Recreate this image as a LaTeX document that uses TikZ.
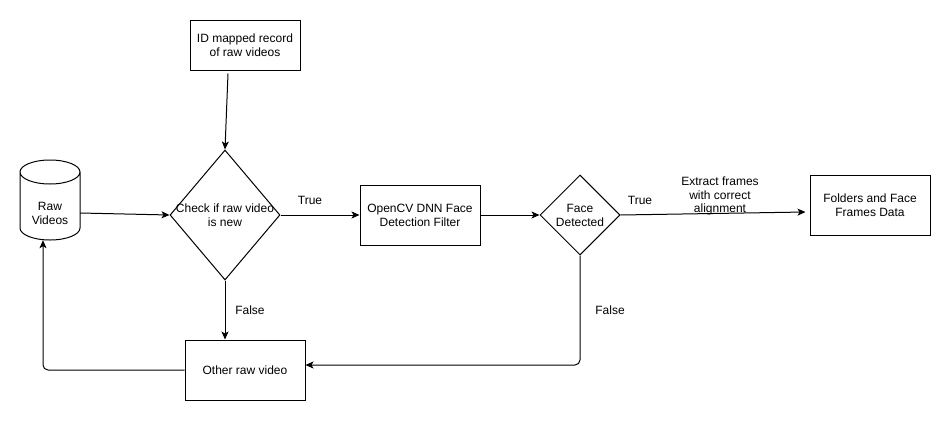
\documentclass[tikz,border=0pt]{standalone}
\usepackage{fontspec}
\setmainfont{Liberation Sans}
\usetikzlibrary{arrows.meta,shapes.geometric,calc}
\begin{document}
\begin{tikzpicture}[x=1pt,y=1pt,
  every node/.style={font=\fontsize{12pt}{14pt}\selectfont, text=black},
  box/.style={draw, line width=1pt, rectangle, inner sep=0pt, align=center},
  dia/.style={draw, line width=1pt, diamond, inner sep=0pt},
  txt/.style={align=center, inner sep=0pt},
  lbl/.style={align=center, inner sep=0pt},
  conn/.style={line width=1pt, -{Stealth[length=8pt,width=7pt,inset=2pt]}},
]
\useasboundingbox (0,0) rectangle (951,-421);
% cylinder
\node[inner sep=0pt, minimum width=60pt, minimum height=80pt] (raw) at (50,-200) {};
\draw[line width=1pt] (20,-172) -- (20,-228) arc[start angle=180,end angle=360,x radius=30,y radius=12]
  -- (80,-172) arc[start angle=0,end angle=180,x radius=30,y radius=12]
  arc[start angle=180,end angle=360,x radius=30,y radius=12];
\node[txt] (rawtxt) at (50,-213) {Raw\\Videos};
% boxes
\node[box, minimum width=110pt, minimum height=50pt] (id) at (245,-45) {ID mapped record\\of raw videos};
\node[dia, minimum width=110pt, minimum height=130pt] (check) at (225,-215) {};
\node[txt] (checktxt) at (225,-215) {Check if raw video\\is new};
\node[box, minimum width=120pt, minimum height=60pt] (cv) at (420,-215) {OpenCV DNN Face\\Detection Filter};
\node[dia, minimum width=80pt, minimum height=80pt] (face) at (580,-215) {};
\node[txt] (facetxt) at (580,-215) {Face\\Detected};
\node[box, minimum width=120pt, minimum height=60pt] (fold) at (870,-205) {Folders and Face\\Frames Data};
\node[box, minimum width=120pt, minimum height=60pt] (other) at (245,-370) {Other raw video};
% labels
\node[lbl] (t1) at (310,-200) {True};
\node[lbl] (t2) at (640,-200) {True};
\node[lbl] (f1) at (250,-310) {False};
\node[lbl] (f2) at (610,-310) {False};
\node[lbl, font=\fontsize{12pt}{13.5pt}\selectfont] (ext) at (720,-196) {Extract frames\\with correct\\alignment};
% connectors
\draw[conn] ([xshift=-17pt,yshift=-3pt]id.south) -- (check.north);
\draw[conn] ([yshift=-13pt]raw.east) -- (check.west);
\draw[conn] (check.east) -- (cv.west);
\draw[conn] (cv.east) -- (face.west);
\coordinate (foldin) at ([xshift=-4pt,yshift=-7pt]fold.west);
\draw[conn] (face.east) -- (foldin);
\draw[conn] (check.south) -- (check.south |- other.north);
\draw[conn, rounded corners=5pt] (face.south) |- ([yshift=5pt]other.east);
\draw[conn, rounded corners=5pt] (other.west) -| ([xshift=-7pt]raw.south);
\end{tikzpicture}
\end{document}
